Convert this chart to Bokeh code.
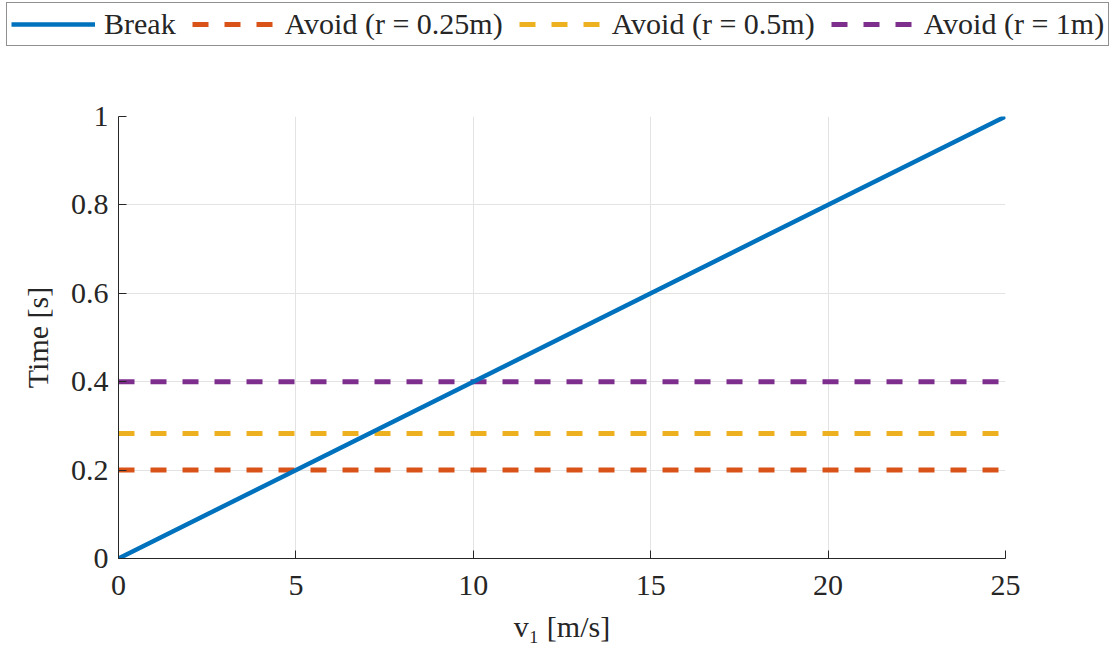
from bokeh.plotting import figure
from bokeh.layouts import column
from bokeh.models import Legend, LegendItem, FixedTicker, Range1d
from bokeh.embed import file_html
from bokeh.resources import INLINE

# ---- data ----
v1 = [0, 25]
t_break = [0, 1]
avoid_r025 = [0.2, 0.2]
avoid_r05 = [0.283, 0.283]
avoid_r1 = [0.4, 0.4]
series_names = ["Break", "Avoid (r = 0.25m)", "Avoid (r = 0.5m)", "Avoid (r = 1m)"]
series_colors = ["#0072BD", "#D95319", "#EDB120", "#7E2F8E"]
x_ticks = [0, 5, 10, 15, 20, 25]
y_ticks = [0, 0.2, 0.4, 0.6, 0.8, 1]
y_tick_labels = ["0", "0.2", "0.4", "0.6", "0.8", "1"]

FONT = "Liberation Serif"
TXT = "#262626"
FS = "30px"

p = figure(width=1115, height=600, output_backend="svg", toolbar_location=None,
           x_range=Range1d(0, 25), y_range=Range1d(0, 1),
           min_border_left=118, min_border_right=110, min_border_top=66, min_border_bottom=92)
p.outline_line_color = None
p.background_fill_color = "white"
p.border_fill_color = "white"

styles = [dict(line_width=4.5), dict(line_width=5, line_dash="16 16"),
          dict(line_width=5, line_dash="16 16"), dict(line_width=5, line_dash="16 16")]
ys = [t_break, avoid_r025, avoid_r05, avoid_r1]
# dashed lines first, solid "Break" line on top
for i in [1, 2, 3, 0]:
    p.line(v1, ys[i], line_color=series_colors[i], **styles[i])

for ax in (p.xaxis[0], p.yaxis[0]):
    ax.major_tick_in = 8
    ax.major_tick_out = 0
    ax.minor_tick_in = 0
    ax.minor_tick_out = 0
    ax.axis_line_color = TXT
    ax.major_tick_line_color = TXT
    ax.major_label_text_font = FONT
    ax.major_label_text_font_size = FS
    ax.major_label_text_color = TXT
    ax.axis_label_text_font = FONT
    ax.axis_label_text_font_size = FS
    ax.axis_label_text_font_style = "normal"
    ax.axis_label_text_color = TXT

p.xaxis.ticker = FixedTicker(ticks=x_ticks)
p.yaxis.ticker = FixedTicker(ticks=y_ticks)
p.yaxis.major_label_overrides = {t: l for t, l in zip(y_ticks, y_tick_labels)}
p.xaxis.major_label_standoff = 17
p.yaxis.major_label_standoff = 10
p.xaxis.axis_label = "v\u2081 [m/s]"
p.yaxis.axis_label = "Time [s]"
p.xaxis.axis_label_standoff = 12
p.yaxis.axis_label_standoff = 14

p.xgrid.grid_line_color = "#e3e3e3"
p.ygrid.grid_line_color = "#e3e3e3"
p.xgrid.ticker = FixedTicker(ticks=x_ticks)
p.ygrid.ticker = FixedTicker(ticks=y_ticks)

# legend strip on top (proxy lines lie outside its range, only the legend shows)
lg = figure(frame_width=1115, frame_height=50, output_backend="svg", toolbar_location=None,
            x_range=Range1d(0, 1), y_range=Range1d(0, 1),
            x_axis_type=None, y_axis_type=None,
            min_border=0, min_border_left=0, min_border_right=0,
            min_border_top=0, min_border_bottom=0)
lg.outline_line_color = None
lg.xgrid.visible = False
lg.ygrid.visible = False
lg.background_fill_color = "white"
lg.border_fill_color = "white"
items = []
for name, c, st in zip(series_names, series_colors, styles):
    r = lg.line([0, 1], [5, 5], line_color=c, **st)
    items.append(LegendItem(label=name, renderers=[r]))

legend = Legend(items=items, orientation="horizontal", location=(6, 4),
                label_text_font=FONT, label_text_font_size=FS, label_text_color=TXT,
                glyph_width=84, glyph_height=24, label_standoff=9, spacing=16,
                padding=4, margin=0, border_line_color="#222222", border_line_width=1.3,
                background_fill_color="white", background_fill_alpha=1)
lg.add_layout(legend, "center")

open("out.html", "w").write(file_html(column(lg, p), INLINE))
